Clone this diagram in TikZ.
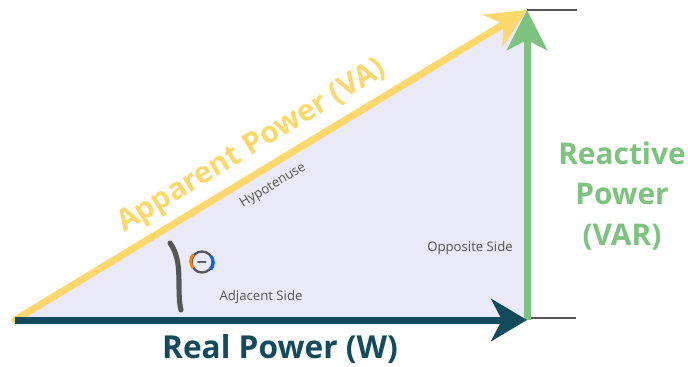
\documentclass[tikz,border=0pt]{standalone}
\usepackage{fontspec}
\setmainfont{Open Sans}
\usetikzlibrary{arrows.meta}

\definecolor{apparent}{HTML}{FCD86C}
\definecolor{reactive}{HTML}{7DC27E}
\definecolor{real}{HTML}{134B5D}
\definecolor{area}{HTML}{E9E9F7}
\definecolor{side}{HTML}{565656}

\begin{document}
\begin{tikzpicture}[x=0.02cm,y=-0.02cm]
    \tikzstyle{vector}=[line width=7*0.02cm]
    \tikzstyle{biglabel}=[font=\fontsize{17}{21}\selectfont\bfseries,align=center]
    \tikzstyle{sidelabel}=[font=\fontsize{7.5}{9}\selectfont,text=side]
    \useasboundingbox (0,0) rectangle (688,367);

    % corners of the triangle
    \coordinate (O) at (15,320);
    \coordinate (A) at (527,320);
    \coordinate (T) at (527,10);
    \coordinate (A-end) at (576,318);
    \coordinate (T-end) at (577,10);

    \fill[area] (O) -- (A) -- (T) -- cycle;

    % guide lines on the right
    \draw[side,line width=1.2pt] (T) -- (T-end);
    \draw[side,line width=1.2pt] (527,318) -- (A-end);

    % the three vectors
    \draw[vector,apparent,line cap=round,-{Stealth[length=0.8cm,width=0.75cm,inset=0.25cm]}] (O) -- (T);
    \draw[vector,reactive,-{Stealth[length=0.8cm,width=0.8cm,inset=0.2cm]}] (A) -- (T);
    \draw[vector,real,-{Stealth[length=0.72cm,width=0.85cm,inset=0.22cm]}] (O) -- (A);

    % angle mark
    \draw[side,line width=3*0.02cm+1.2pt,line cap=round]
        (170,243) .. controls (184,262) and (176,290) .. (181,310);
    \node[circle,draw=side,line width=1.3pt,minimum size=0.42cm,inner sep=0pt] (theta) at (202,262) {};
    \draw[orange,line width=1.6pt] (theta.140) arc[start angle=140,end angle=220,radius=0.21cm];
    \draw[blue!60!cyan,line width=1.6pt] (theta.-40) arc[start angle=-40,end angle=40,radius=0.21cm];
    \node[side,font=\fontsize{7}{7}\selectfont\bfseries,rotate=90] (theta-bar) at (theta) {I};

    % labels
    \node[biglabel,apparent,rotate=31.2] (apparent-lbl) at (252,147) {Apparent Power (VA)};
    \node[biglabel,reactive] (reactive-lbl) at (622,196) {Reactive\\[2pt]Power\\[2pt](VAR)};
    \node[biglabel,real,font=\fontsize{18}{21}\selectfont\bfseries] (real-lbl) at (280,349) {Real Power (W)};
    \node[sidelabel,rotate=31.2] (hyp-lbl) at (273,186) {Hypotenuse};
    \node[sidelabel] (opp-lbl) at (470,248) {Opposite Side};
    \node[sidelabel] (adj-lbl) at (261,297) {Adjacent Side};
\end{tikzpicture}
\end{document}
